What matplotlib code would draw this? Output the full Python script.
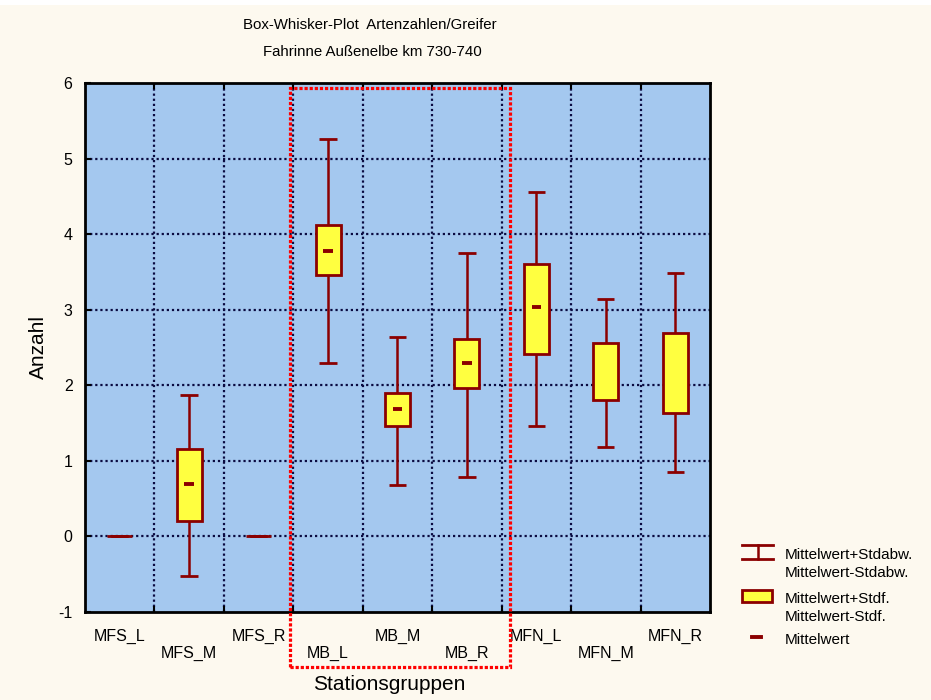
import matplotlib
matplotlib.use("Agg")
import matplotlib.pyplot as plt
from matplotlib.patches import Rectangle
from matplotlib.lines import Line2D

plt.rcParams['font.family'] = ['Liberation Sans', 'DejaVu Sans']
plt.rcParams['axes.unicode_minus'] = False

# data
stations = ['MFS_L', 'MFS_M', 'MFS_R', 'MB_L', 'MB_M', 'MB_R', 'MFN_L', 'MFN_M', 'MFN_R']
sd_hi = [0.0, 1.87, 0.0, 5.26, 2.64, 3.75, 4.56, 3.14, 3.49]
se_hi = [0.0, 1.16, 0.0, 4.12, 1.90, 2.61, 3.61, 2.56, 2.69]
mean = [None, 0.69, None, 3.78, 1.69, 2.30, 3.03, None, None]
se_lo = [0.0, 0.21, 0.0, 3.46, 1.46, 1.96, 2.41, 1.80, 1.64]
sd_lo = [0.0, -0.53, 0.0, 2.30, 0.68, 0.79, 1.46, 1.19, 0.85]

dark = '#8b0000'
fig = plt.figure(figsize=(9.31, 7), dpi=100, facecolor='#fdf9ef')
fig.patches.append(Rectangle((0, 0.993), 1, 0.01, transform=fig.transFigure,
                             facecolor='white', edgecolor='none'))
ax = fig.add_axes([0.0913, 0.1257, 0.6713, 0.7557])
ax.set_facecolor('#a4c8ef')


def fx(px):
    return px / 931


def fy(py):
    return 1 - py / 700


x = list(range(len(stations)))
# whiskers + caps
ax.vlines(x, sd_lo, sd_hi, color=dark, lw=1.8, zorder=3)
ax.hlines(sd_hi, [i - 0.125 for i in x], [i + 0.125 for i in x], color=dark, lw=2, zorder=3)
ax.hlines(sd_lo, [i - 0.125 for i in x], [i + 0.125 for i in x], color=dark, lw=2, zorder=3)
# boxes
ax.bar(x, [h - l for h, l in zip(se_hi, se_lo)], bottom=se_lo, width=0.36,
       facecolor='#ffff40', edgecolor=dark, lw=2, zorder=4)
# means
for i, m in zip(x, mean):
    if m is not None:
        ax.hlines(m, i - 0.07, i + 0.07, color=dark, lw=2.8, zorder=5)

ax.set_xlim(-0.5, 8.5)
ax.set_ylim(-1, 6)
ax.set_yticks(range(-1, 7))
ax.set_xticks(x)
ax.set_xticklabels([s if i % 2 == 0 else '\n' + s for i, s in enumerate(stations)])
ax.set_xticks([i + 0.5 for i in x[:-1]], minor=True)
ax.tick_params(axis='x', which='major', length=0, pad=12, labelsize=11.5)
ax.tick_params(axis='x', which='minor', direction='in', length=4, width=1.5, top=True, bottom=True)
ax.tick_params(axis='y', direction='in', length=4, width=1.5, pad=9, labelsize=11.5)
ax.grid(False)
for v in [i + 0.5 for i in x[:-1]]:
    ax.axvline(v, color='#0a0a40', lw=1.6, ls=(0, (1, 1.3)), zorder=1)
for v in range(0, 6):
    ax.axhline(v, color='#0a0a40', lw=1.6, ls=(0, (1, 1.3)), zorder=1)
for s in ax.spines.values():
    s.set_linewidth(2)

ax.set_xlabel('Stationsgruppen', fontsize=15, va='center')
ax.xaxis.set_label_coords(fx(389), fy(685), transform=fig.transFigure)
ax.set_ylabel('Anzahl', fontsize=15, va='center')
ax.yaxis.set_label_coords(fx(38), fy(347), transform=fig.transFigure)

fig.text(370 / 931, 1 - 25 / 700, 'Box-Whisker-Plot  Artenzahlen/Greifer', ha='center', va='center', fontsize=10.8)
fig.text(372 / 931, 1 - 52 / 700, 'Fahrinne Außenelbe km 730-740', ha='center', va='center', fontsize=10.8)

# red dotted highlight frame
fig.patches.append(Rectangle((290 / 931, 1 - 667 / 700), 220 / 931, 579 / 700,
                             transform=fig.transFigure, fill=False, edgecolor='#ff0000',
                             lw=2.3, ls=(0, (1, 0.6)), zorder=10))

# legend drawn by hand
T = fig.transFigure
fig.lines.append(Line2D([fx(742), fx(773)], [fy(545), fy(545)], color=dark, lw=2, transform=T))
fig.lines.append(Line2D([fx(742), fx(773)], [fy(559), fy(559)], color=dark, lw=2, transform=T))
fig.lines.append(Line2D([fx(758), fx(758)], [fy(545), fy(559)], color=dark, lw=1.8, transform=T))
fig.patches.append(Rectangle((fx(742), fy(602)), fx(30), 12 / 700, transform=T,
                             facecolor='#ffff40', edgecolor=dark, lw=2))
fig.lines.append(Line2D([fx(752), fx(761)], [fy(637), fy(637)], color=dark, lw=2.8, transform=T))
fig.text(fx(785), fy(555), 'Mittelwert+Stdabw.', va='center', fontsize=11)
fig.text(fx(785), fy(573), 'Mittelwert-Stdabw.', va='center', fontsize=11)
fig.text(fx(785), fy(599), 'Mittelwert+Stdf.', va='center', fontsize=11)
fig.text(fx(785), fy(617), 'Mittelwert-Stdf.', va='center', fontsize=11)
fig.text(fx(785), fy(640), 'Mittelwert', va='center', fontsize=11)

fig.savefig('out.png', dpi=100, facecolor=fig.get_facecolor())
